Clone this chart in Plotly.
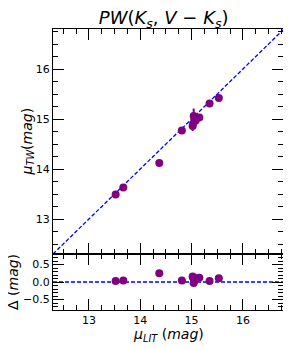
import plotly.graph_objects as go

# ---- data ----
mu_lit = [13.52, 13.67, 14.37, 14.81, 15.02, 15.03, 15.04, 15.06, 15.08, 15.15, 15.35, 15.53]
mu_tw = [13.49, 13.63, 14.12, 14.77, 14.86, 14.91, 15.06, 15.02, 14.97, 15.03, 15.31, 15.42]
delta = [0.03, 0.04, 0.25, 0.04, 0.16, 0.12, -0.03, 0.04, 0.11, 0.12, 0.03, 0.11]
err_tw = [0.03, 0.03, 0.03, 0.03, 0.10, 0.03, 0.15, 0.03, 0.08, 0.03, 0.03, 0.06]
line_ends = [12.3, 16.8]
x_ticks = [13, 14, 15, 16]
y_ticks = [13, 14, 15, 16]
res_ticks = [-0.5, 0.0, 0.5]

PURPLE = "#800080"
BLUE = "#0000ff"
FONT = "DejaVu Sans"

fig = go.Figure()

# main panel
fig.add_trace(go.Scatter(x=line_ends, y=line_ends, mode="lines",
                         line=dict(color=BLUE, width=1.3, dash="4px,2px"),
                         xaxis="x", yaxis="y", hoverinfo="skip", showlegend=False))
fig.add_trace(go.Scatter(x=mu_lit, y=mu_tw, mode="markers",
                         marker=dict(color=PURPLE, size=8),
                         error_y=dict(type="data", array=err_tw, color=PURPLE, thickness=2, width=0),
                         xaxis="x", yaxis="y", showlegend=False))
# residual panel
fig.add_trace(go.Scatter(x=line_ends, y=[0, 0], mode="lines",
                         line=dict(color=BLUE, width=1.3, dash="4px,2px"),
                         xaxis="x2", yaxis="y2", hoverinfo="skip", showlegend=False))
fig.add_trace(go.Scatter(x=mu_lit, y=delta, mode="markers",
                         marker=dict(color=PURPLE, size=8),
                         xaxis="x2", yaxis="y2", showlegend=False))

split = 56 / 281

common = dict(showline=True, linecolor="black", linewidth=1, mirror="allticks",
              ticks="inside", ticklen=11, tickwidth=1, tickcolor="black",
              showgrid=False, zeroline=False,
              tickfont=dict(family=FONT, size=11, color="black"))
minor_x = dict(ticks="inside", ticklen=5, dtick=0.25, tickcolor="black", tickwidth=1)

fig.update_layout(
    width=291, height=350,
    margin=dict(l=45, r=16, t=21, b=48),
    paper_bgcolor="white", plot_bgcolor="white",
    title=dict(text="<i>PW</i>(<i>K<sub>s</sub></i>, <i>V</i> − <i>K<sub>s</sub></i>)",
               x=0.535, xanchor="center", y=0.972, yanchor="middle",
               font=dict(family=FONT, size=18, color="black")),
    xaxis=dict(domain=[0, 1], anchor="y", range=[12.3, 16.78], tickvals=x_ticks,
               showticklabels=False, minor=minor_x, **common),
    yaxis=dict(domain=[split, 1], anchor="x", range=[12.3, 16.8], tickvals=y_ticks,
               minor=minor_x, **common),
    xaxis2=dict(domain=[0, 1], anchor="y2", range=[12.3, 16.78], tickvals=x_ticks,
                matches="x", minor=minor_x, **common),
    yaxis2=dict(domain=[0, split], anchor="x2", range=[-0.8, 0.8], tickvals=res_ticks,
                tickformat=".1f",
                minor=dict(ticks="inside", ticklen=5, dtick=0.1, tickcolor="black", tickwidth=1),
                **common),
    annotations=[
        dict(text="<i>μ<sub>TW</sub></i>(<i>mag</i>)", xref="paper", yref="paper",
             x=0, xshift=-26, y=(split + 1) / 2, textangle=-90, showarrow=False,
             xanchor="center", yanchor="middle",
             font=dict(family=FONT, size=14, color="black")),
        dict(text="Δ (<i>mag</i>)", xref="paper", yref="paper",
             x=0, xshift=-40, y=split / 2, textangle=-90, showarrow=False,
             xanchor="center", yanchor="middle",
             font=dict(family=FONT, size=14, color="black")),
        dict(text="<i>μ<sub>LIT</sub></i> (<i>mag</i>)", xref="paper", yref="paper",
             x=0.5, y=0, yshift=-25, showarrow=False,
             xanchor="center", yanchor="middle",
             font=dict(family=FONT, size=14, color="black")),
    ],
)

fig.write_html("out.html")
